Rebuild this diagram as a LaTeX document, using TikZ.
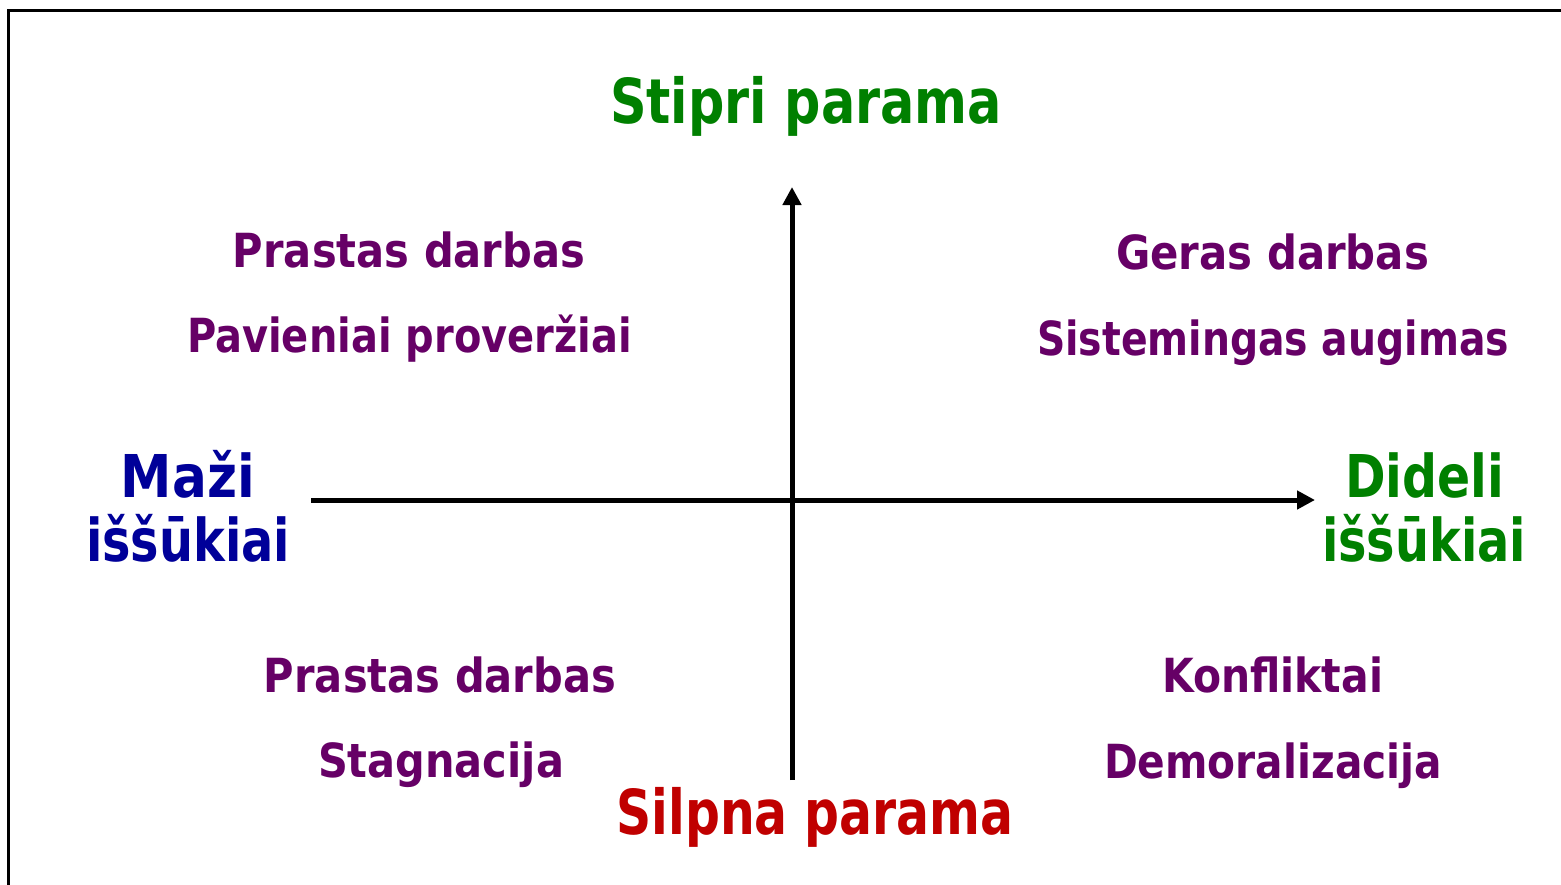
\documentclass[tikz,border=0pt]{standalone}
\usepackage{fontspec}
\usepackage{graphicx}
\setmainfont{DejaVu Sans}
\usetikzlibrary{arrows.meta}
\definecolor{cgreen}{RGB}{0,128,0}
\definecolor{cpurple}{RGB}{102,0,102}
\definecolor{cblue}{RGB}{0,0,153}
\definecolor{cred}{RGB}{192,0,0}
\newcommand{\fitw}[2]{\resizebox{#1pt}{\height}{#2}}
\begin{document}
\begin{tikzpicture}[x=1pt,y=-1pt,
  lbl/.style={inner sep=0pt,anchor=base,font=\bfseries},
  big/.style={lbl,font=\fontsize{62}{70}\selectfont\bfseries},
  side/.style={lbl,font=\fontsize{59}{66}\selectfont\bfseries},
  item/.style={lbl,text=cpurple,font=\fontsize{47}{54}\selectfont\bfseries},
  axis/.style={line width=5pt,-{Triangle[length=18pt,width=18pt]}}]
\useasboundingbox (0,0) rectangle (1561,884);
\draw[line width=3pt] (8,10) rectangle (1600,920);
% axes
\coordinate (vb) at (792,780);
\coordinate (vt) at (792,187);
\coordinate (hl) at (311,500);
\coordinate (hr) at (1315,500);
\draw[axis] (vb) -- (vt);
\draw[axis] (hl) -- (hr);
% labels
\node[big,text=cgreen] (top) at (806,123) {\fitw{392}{Stipri parama}};
\node[big,text=cred] (bot) at (815,834) {\fitw{397}{Silpna parama}};
\node[side,text=cblue] (ml1) at (188,497) {\fitw{134}{Maži}};
\node[side,text=cblue] (ml2) at (188,561) {\fitw{204}{iššūkiai}};
\node[side,text=cgreen] (dr1) at (1424.5,497) {\fitw{159}{Dideli}};
\node[side,text=cgreen] (dr2) at (1424,561) {\fitw{204}{iššūkiai}};
\node[item] (q1a) at (409,267) {\fitw{352}{Prastas darbas}};
\node[item] (q1b) at (409.5,352) {\fitw{445}{Pavieniai proveržiai}};
\node[item] (q2a) at (1272.5,269) {\fitw{313}{Geras darbas}};
\node[item] (q2b) at (1273,355) {\fitw{472}{Sistemingas augimas}};
\node[item] (q3a) at (440,692) {\fitw{352}{Prastas darbas}};
\node[item] (q3b) at (441,777) {\fitw{246}{Stagnacija}};
\node[item] (q4a) at (1272.5,692) {\fitw{221}{Konfliktai}};
\node[item] (q4b) at (1273,778) {\fitw{338}{Demoralizacija}};
\end{tikzpicture}
\end{document}
